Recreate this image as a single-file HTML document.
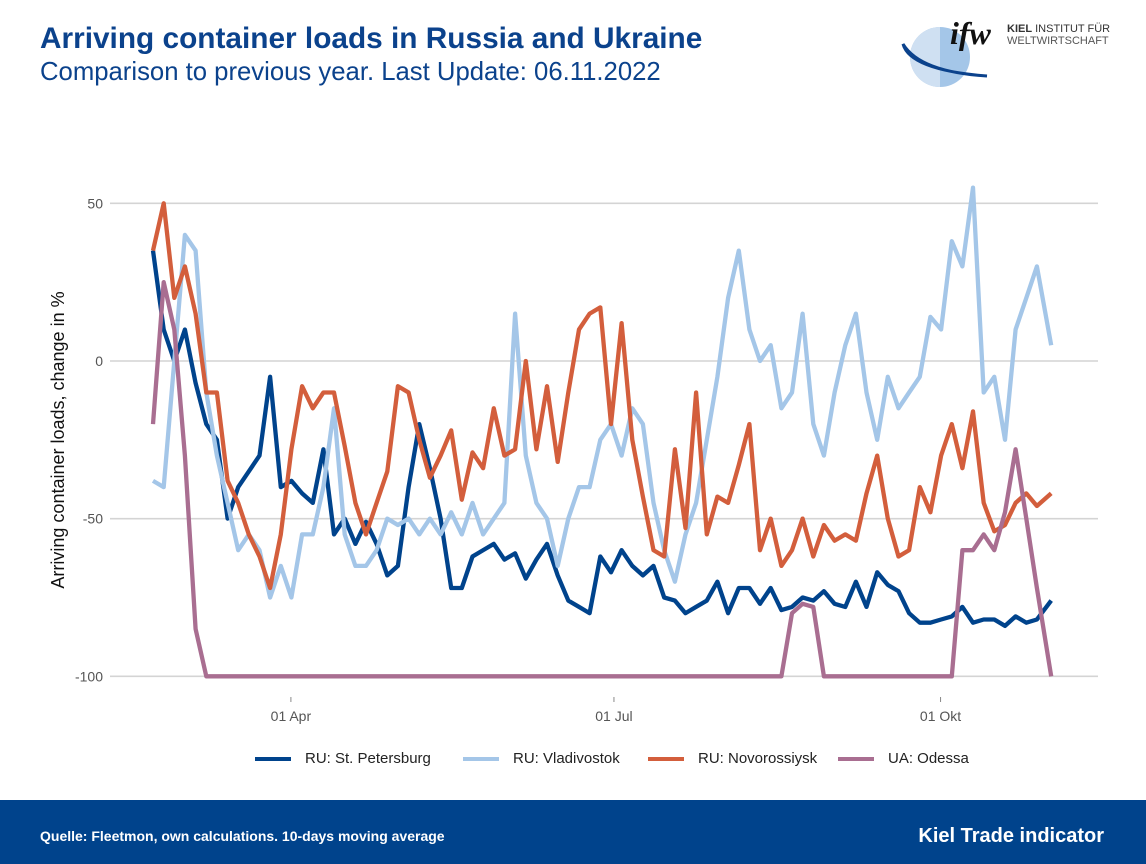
<!DOCTYPE html>
<html><head><meta charset="utf-8">
<style>
body{margin:0;width:1146px;height:864px;background:#fff;font-family:"Liberation Sans",sans-serif;overflow:hidden;position:relative}
.t{position:absolute;white-space:nowrap}
</style></head>
<body>
<div class="t" style="left:40px;top:22px;font-size:29.8px;font-weight:bold;color:#0b428c">Arriving container loads in Russia and Ukraine</div>
<div class="t" style="left:40px;top:58px;font-size:25.7px;color:#0b428c">Comparison to previous year. Last Update: 06.11.2022</div>
<svg style="position:absolute;left:895px;top:10px" width="240" height="80">
<circle cx="45" cy="47" r="30" fill="#a4c6e8"/>
<path d="M45 17 A30 30 0 0 0 45 77 Z" fill="#cfe0f2"/>
<path d="M8 34 Q15 60 92 66 Q25 62 8 34Z" fill="#0b428c" stroke="#0b428c" stroke-width="3"/>
<text x="55" y="34" font-size="32" font-weight="bold" font-style="italic" fill="#111" font-family="Liberation Serif,serif">ifw</text>
<text x="112" y="22" font-size="11" fill="#333"><tspan font-weight="bold">KIEL</tspan> INSTITUT FÜR</text>
<text x="112" y="34" font-size="11" fill="#555">WELTWIRTSCHAFT</text>
</svg>
<svg id="chart" style="position:absolute;left:0;top:0" width="1146" height="800"></svg>
<div class="t" style="left:255px;top:750px;font-size:15px;color:#222;display:flex;gap:0">
<div style="display:flex;align-items:center;width:208px"><span style="display:inline-block;width:36px;height:4px;background:#00438c;margin-right:14px"></span>RU: St. Petersburg</div>
<div style="display:flex;align-items:center;width:185px"><span style="display:inline-block;width:36px;height:4px;background:#a4c6e8;margin-right:14px"></span>RU: Vladivostok</div>
<div style="display:flex;align-items:center;width:190px"><span style="display:inline-block;width:36px;height:4px;background:#d35e3c;margin-right:14px"></span>RU: Novorossiysk</div>
<div style="display:flex;align-items:center"><span style="display:inline-block;width:36px;height:4px;background:#a96e91;margin-right:14px"></span>UA: Odessa</div>
</div>
<div style="position:absolute;left:0;top:800px;width:1146px;height:64px;background:#00438c"></div>
<div class="t" style="left:40px;top:828px;font-size:14px;font-weight:bold;color:#fff">Quelle: Fleetmon, own calculations. 10-days moving average</div>
<div class="t" style="right:42px;top:825px;font-size:20px;font-weight:bold;color:#fff">Kiel Trade indicator</div>
<script>
const days=[];for(let i=0;i<84;i++)days.push(i*3);days.push(253);
const yTicks=[50,0,-50,-100];
const yTickLabels=["50","0","-50","-100"];
const xTickDays=[38,129,221];
const xTickLabels=["01 Apr","01 Jul","01 Okt"];
const stPetersburg=[35,10,0,10,-7,-20,-25,-50,-40,-35,-30,-5,-40,-38,-42,-45,-28,-55,-50,-58,-51,-58,-68,-65,-40,-20,-34,-50,-72,-72,-62,-60,-58,-63,-61,-69,-63,-58,-68,-76,-78,-80,-62,-67,-60,-65,-68,-65,-75,-76,-80,-78,-76,-70,-80,-72,-72,-77,-72,-79,-78,-75,-76,-73,-77,-78,-70,-78,-67,-71,-73,-80,-83,-83,-82,-81,-78,-83,-82,-82,-84,-81,-83,-82,-76];
const vladivostok=[-38,-40,0,40,35,-10,-30,-45,-60,-55,-60,-75,-65,-75,-55,-55,-40,-15,-55,-65,-65,-60,-50,-52,-50,-55,-50,-55,-48,-55,-45,-55,-50,-45,15,-30,-45,-50,-65,-50,-40,-40,-25,-20,-30,-15,-20,-45,-60,-70,-55,-45,-25,-5,20,35,10,0,5,-15,-10,15,-20,-30,-10,5,15,-10,-25,-5,-15,-10,-5,14,10,38,30,55,-10,-5,-25,10,20,30,5];
const novorossiysk=[35,50,20,30,15,-10,-10,-38,-45,-55,-62,-72,-55,-28,-8,-15,-10,-10,-27,-45,-55,-45,-35,-8,-10,-25,-37,-30,-22,-44,-29,-34,-15,-30,-28,0,-28,-8,-32,-10,10,15,17,-20,12,-25,-43,-60,-62,-28,-53,-10,-55,-43,-45,-33,-20,-60,-50,-65,-60,-50,-62,-52,-57,-55,-57,-42,-30,-50,-62,-60,-40,-48,-30,-20,-34,-16,-45,-54,-52,-45,-42,-46,-42];
const odessa=[-20,25,10,-30,-85,-100,-100,-100,-100,-100,-100,-100,-100,-100,-100,-100,-100,-100,-100,-100,-100,-100,-100,-100,-100,-100,-100,-100,-100,-100,-100,-100,-100,-100,-100,-100,-100,-100,-100,-100,-100,-100,-100,-100,-100,-100,-100,-100,-100,-100,-100,-100,-100,-100,-100,-100,-100,-100,-100,-100,-80,-77,-78,-100,-100,-100,-100,-100,-100,-100,-100,-100,-100,-100,-100,-100,-60,-60,-55,-60,-48,-28,-50,-72,-100];
const svg=document.getElementById('chart');
const NS='http://www.w3.org/2000/svg';
function xs(d){return 153+d*3.55;}
function ys(v){return 361-v*3.153;}
for(let i=0;i<yTicks.length;i++){
  const g=document.createElementNS(NS,'line');
  
  
  g.setAttribute('x1',110);g.setAttribute('x2',1098);
  g.setAttribute('y1',ys(yTicks[i]));g.setAttribute('y2',ys(yTicks[i]));
  g.setAttribute('stroke','#d4d4d4');g.setAttribute('stroke-width','1.6');
  svg.appendChild(g);
  const t=document.createElementNS(NS,'text');
  
  
  t.setAttribute('x',103);t.setAttribute('y',ys(yTicks[i])+5);
  t.setAttribute('text-anchor','end');t.setAttribute('font-size','14');t.setAttribute('fill','#555');
  t.textContent=yTickLabels[i];svg.appendChild(t);
}
for(let i=0;i<xTickDays.length;i++){
  const tk=document.createElementNS(NS,'line');
  
  
  tk.setAttribute('x1',xs(xTickDays[i])+3);tk.setAttribute('x2',xs(xTickDays[i])+3);
  tk.setAttribute('y1',697);tk.setAttribute('y2',702);tk.setAttribute('stroke','#888');
  svg.appendChild(tk);
  const t=document.createElementNS(NS,'text');
  
  
  t.setAttribute('x',xs(xTickDays[i])+3);t.setAttribute('y',721);
  t.setAttribute('text-anchor','middle');t.setAttribute('font-size','14');t.setAttribute('fill','#555');
  t.textContent=xTickLabels[i];svg.appendChild(t);
}
const yt=document.createElementNS(NS,'text');


yt.setAttribute('transform','translate(64,440) rotate(-90)');
yt.setAttribute('text-anchor','middle');yt.setAttribute('font-size','18');yt.setAttribute('fill','#111');
yt.textContent='Arriving container loads, change in %';svg.appendChild(yt);
function line(vals,color,name){
  let d='';
  for(let i=0;i<vals.length;i++){d+=(i?'L':'M')+xs(days[i]).toFixed(1)+' '+ys(vals[i]).toFixed(1);}
  const p=document.createElementNS(NS,'path');
  
  
  p.setAttribute('d',d);p.setAttribute('fill','none');p.setAttribute('stroke',color);
  p.setAttribute('stroke-width','4.3');p.setAttribute('stroke-linejoin','round');
  svg.appendChild(p);
}
line(stPetersburg,'#00438c','line-st-petersburg');
line(vladivostok,'#a4c6e8','line-vladivostok');
line(novorossiysk,'#d35e3c','line-novorossiysk');
line(odessa,'#a96e91','line-odessa');
</script>
</body></html>
